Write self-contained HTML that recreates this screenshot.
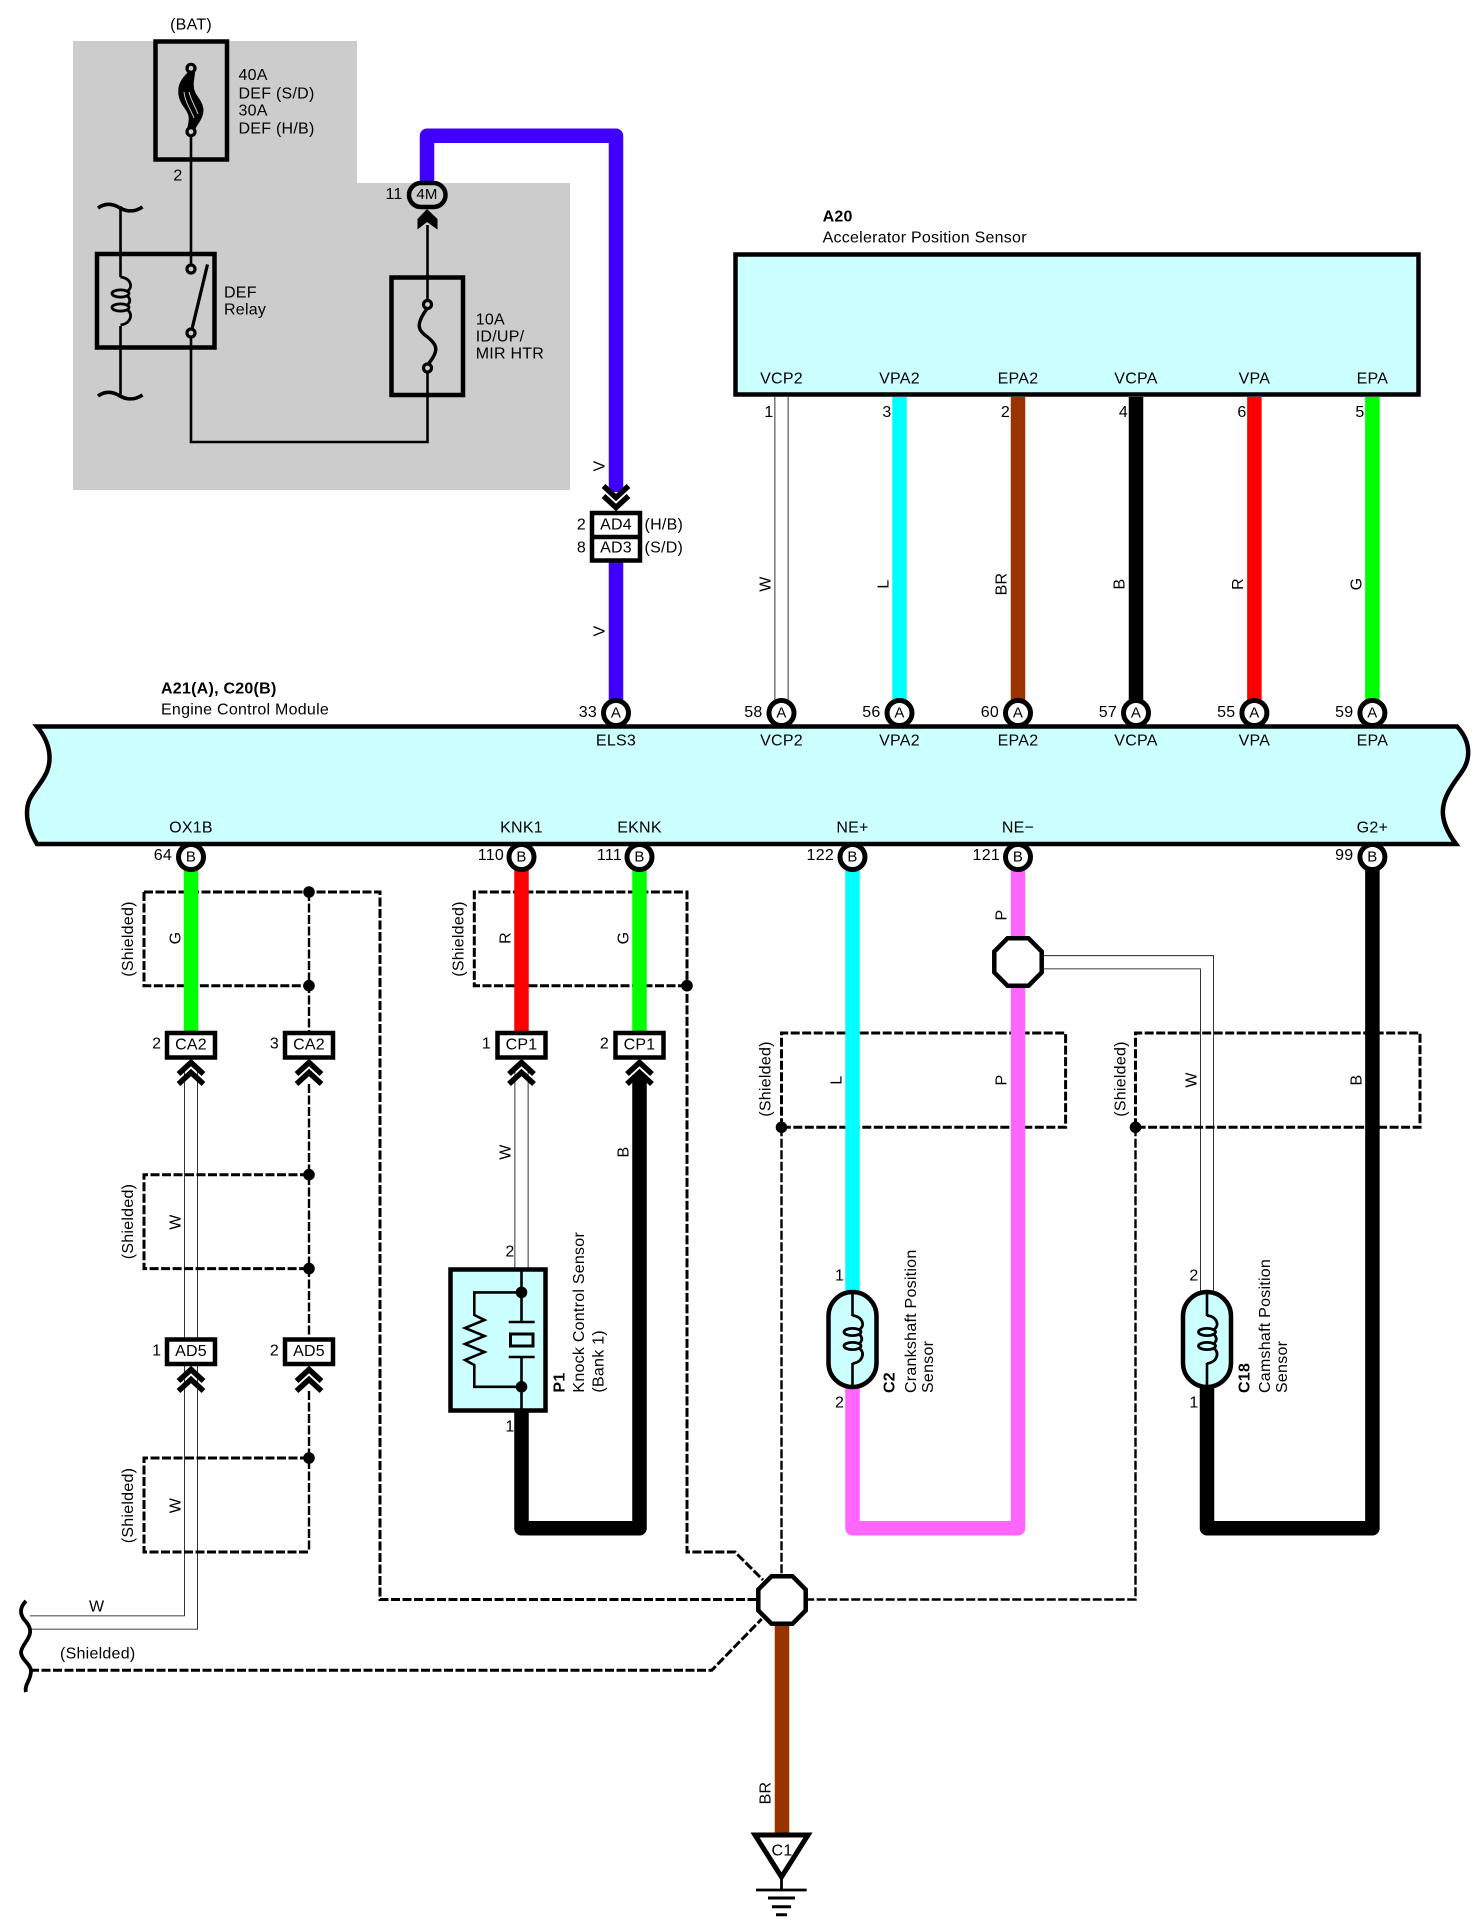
<!DOCTYPE html>
<html>
<head>
<meta charset="utf-8">
<title>Engine Control Module Wiring Diagram</title>
<style>
html,body{margin:0;padding:0;background:#fff}
svg{display:block}
text{font-family:"Liberation Sans",Arial,sans-serif;font-size:16px;letter-spacing:.25px;fill:#000;dominant-baseline:central}
.m{text-anchor:middle}
.e{text-anchor:end}
.b{font-weight:bold}
.s{font-size:15px}
.w{fill:none;stroke-linejoin:round;stroke-linecap:butt;stroke-width:14.5}
.k{fill:none;stroke:#000}
.d{fill:none;stroke:#000;stroke-width:3;stroke-dasharray:9 2.5}
.d2{fill:none;stroke:#000;stroke-width:2.4;stroke-dasharray:9 2.5}
.p{fill:#fff;stroke:#000;stroke-width:5}
.c{fill:#000}
</style>
</head>
<body>
<svg xmlns="http://www.w3.org/2000/svg" width="1479" height="1929" viewBox="0 0 1479 1929">
<defs>
<g id="chevU" class="k" style="stroke-width:5.5;fill:none"><path d="M-12.5,15 L0,3.5 L12.5,15"/><path d="M-12.5,25 L0,13.5 L12.5,25"/></g>
<g id="oct"><polygon points="-10.5,-23.7 10.5,-23.7 23.7,-10.5 23.7,10.5 10.5,23.7 -10.5,23.7 -23.7,10.5 -23.7,-10.5" fill="#fff" stroke="#000" stroke-width="4.5"/></g>
<g id="coil" fill="none" stroke="#000" stroke-width="2.8"><path d="M0,-24 C10,-23 13,-14 7,-10"/><ellipse cx="0" cy="-7.5" rx="8.5" ry="3.6"/><path d="M7,-5 C10,-2 10,1 7,4"/><ellipse cx="0" cy="6.5" rx="8.5" ry="3.6"/><path d="M7,9 C13,13 10,23 0,24"/></g>
</defs>
<rect width="1479" height="1929" fill="#fff"/>

<!-- gray area -->
<polygon points="73,41 357,41 357,183 570,183 570,490 73,490" fill="#cccccc"/>

<!-- BAT fuse -->
<rect x="155.5" y="41.5" width="71.5" height="118" fill="none" stroke="#000" stroke-width="4.5"/>
<path d="M190,70 C182,78 177,84 178.5,95 C180,105 187,109 188.5,116 C189.5,122 187,126 187.5,130 L195,130 C197,124 203,120 203.5,110 C203,100 195,96 194,88 C193,82 195,78 195,71 Z" fill="#000"/>
<path d="M184,92 C185,102 190,108 194,118 M189,92 C191,100 195,106 198,114" stroke="#ccc" stroke-width="1" fill="none"/>
<circle cx="191" cy="68.3" r="4" fill="#ccc" stroke="#000" stroke-width="3.2"/>
<circle cx="191" cy="131.7" r="4" fill="#ccc" stroke="#000" stroke-width="3.2"/>
<path class="k" stroke-width="2.6" d="M191,136 V265"/>

<!-- Relay -->
<rect x="97" y="254" width="117.5" height="93.5" fill="none" stroke="#000" stroke-width="4.5"/>
<path class="k" stroke-width="2.6" d="M120.5,206 V277 M120.5,326 V396"/>
<use href="#coil" x="120.5" y="301"/>
<path class="k" stroke-width="3.6" d="M98,208 C105,203 112,203 120,208 C127,212 135,212 142.5,207"/>
<path class="k" stroke-width="3.6" d="M98,396 C105,391 112,391 120,396 C127,400 135,400 142.5,395"/>
<circle cx="191" cy="269" r="4" fill="#ccc" stroke="#000" stroke-width="3.2"/>
<circle cx="191" cy="333" r="4" fill="#ccc" stroke="#000" stroke-width="3.2"/>
<path class="k" stroke-width="3.2" d="M192,329 L207.5,264.5"/>
<path class="k" stroke-width="2.6" d="M191,337 V442 H427.5 V372 M427.5,300 V225"/>

<!-- 10A fuse -->
<rect x="391.5" y="277.5" width="71.5" height="117.5" fill="none" stroke="#000" stroke-width="4.5"/>
<path class="k" stroke-width="3.4" d="M427.5,308 C415,325 418,330 427.5,337 C437,345 440,350 427.5,365"/>
<circle cx="427.5" cy="304.5" r="4" fill="#ccc" stroke="#000" stroke-width="3.2"/>
<circle cx="427.5" cy="368" r="4" fill="#ccc" stroke="#000" stroke-width="3.2"/>

<!-- Blue wire -->
<path class="w" stroke="#4000ff" d="M427,185 V135.7 H616 V492 M616,560 V702"/>

<!-- 4M -->
<rect x="409" y="183" width="36.5" height="24" rx="12" ry="12" fill="#ccc" stroke="#000" stroke-width="4.5"/>
<polygon points="427,209 437.5,219 437.5,229.5 427,222 417.5,229.5 417.5,219" fill="#000"/>

<!-- White wires (under shields) -->
<path d="M781.5,397 V702" class="k" stroke-width="14"/><path d="M781.5,397 V702" fill="none" stroke="#fff" stroke-width="12.4"/>
<path d="M191,1070 V1622.5 H30" class="k" stroke-width="14"/><path d="M191,1070 V1622.5 H30" fill="none" stroke="#fff" stroke-width="12.4"/>
<path d="M521.5,1070 V1268" class="k" stroke-width="14"/><path d="M521.5,1070 V1268" fill="none" stroke="#fff" stroke-width="12.4"/>
<path d="M1040,962.3 H1207 V1292" class="k" stroke-width="14"/><path d="M1040,962.3 H1207 V1292" fill="none" stroke="#fff" stroke-width="12.4"/>

<!-- Shields -->
<path class="d" d="M144,892 H380 V1599.5 H756"/>
<path class="d" d="M144,892 V985.7 H309"/>
<path class="d2" d="M309,892 V1032"/>
<path class="d2" d="M309,1084 V1337"/>
<path class="d2" d="M309,1391 V1552"/>
<path class="d" d="M309,1174.7 H144 V1268.6 H309"/>
<path class="d" d="M309,1458 H144 V1552 H309"/>
<path class="d" d="M687,985.7 H474.3 V892 H687 V1552 H735 L763,1580"/>
<path class="d" d="M781.5,1127.3 V1033 H1065.6 V1127.3 H781.5"/>
<path class="d2" d="M781.5,1127.3 V1576"/>
<path class="d" d="M1135.5,1127.3 V1033 H1420 V1127.3 H1135.5"/>
<path class="d2" d="M1135.5,1127.3 V1599.5 H808"/>
<path class="d" d="M30,1670.3 H711.7 L761.7,1619"/>
<circle class="c" cx="309" cy="892" r="5.8"/>
<circle class="c" cx="309" cy="985.7" r="5.8"/>
<circle class="c" cx="309" cy="1174.7" r="5.8"/>
<circle class="c" cx="309" cy="1268.6" r="5.8"/>
<circle class="c" cx="309" cy="1458" r="5.8"/>
<circle class="c" cx="687" cy="985.7" r="5.8"/>
<circle class="c" cx="781.5" cy="1127.3" r="5.8"/>
<circle class="c" cx="1135.5" cy="1127.3" r="5.8"/>

<!-- Colored wires -->
<path class="w" stroke="#00ffff" d="M899.5,397 V702"/>
<path class="w" stroke="#993300" d="M1018,397 V702"/>
<path class="w" stroke="#000" d="M1136,397 V702"/>
<path class="w" stroke="#ff0000" d="M1254.4,397 V702"/>
<path class="w" stroke="#00ff00" d="M1372.4,397 V702"/>
<path class="w" stroke="#00ff00" d="M191,870 V1034"/>
<path class="w" stroke="#ff0000" d="M521.5,870 V1034"/>
<path class="w" stroke="#00ff00" d="M639.5,870 V1034"/>
<path class="w" stroke="#000" d="M639.5,1075 V1528.3 H521.5 V1410"/>
<path class="w" stroke="#00ffff" d="M852.5,870 V1294"/>
<path class="w" stroke="#ff66ff" d="M852.5,1385 V1528.3 H1018 V870"/>
<path class="w" stroke="#000" d="M1207,1385 V1528.3 H1372.4 V870"/>
<path class="w" stroke="#993300" d="M782,1622 V1836" style="stroke-linejoin:miter"/>

<!-- A20 box -->
<rect x="735.5" y="254.5" width="683" height="140" fill="#ccffff" stroke="#000" stroke-width="4.5"/>

<!-- ECM -->
<path d="M37,726.5 H1457 C1466,736 1469,746 1468,756 C1467,768 1458,776 1452,786 C1446,795 1442,805 1443,815 C1444,826 1450,836 1456,844 H37 C32,836 27,826 27,813 C27,800 32,795 39,785 C46,775 50,768 49.5,756 C49,745 44,735 37,726.5 Z" fill="#ccffff" stroke="#000" stroke-width="4.5" stroke-linejoin="miter"/>

<!-- Pins A -->
<circle class="p" cx="616" cy="713" r="12.5"/>
<circle class="p" cx="781.5" cy="713" r="12.5"/>
<circle class="p" cx="899.5" cy="713" r="12.5"/>
<circle class="p" cx="1018" cy="713" r="12.5"/>
<circle class="p" cx="1136" cy="713" r="12.5"/>
<circle class="p" cx="1254.4" cy="713" r="12.5"/>
<circle class="p" cx="1372.4" cy="713" r="12.5"/>
<!-- Pins B -->
<circle class="p" cx="191" cy="857" r="12.5"/>
<circle class="p" cx="521.5" cy="857" r="12.5"/>
<circle class="p" cx="639.5" cy="857" r="12.5"/>
<circle class="p" cx="852.5" cy="857" r="12.5"/>
<circle class="p" cx="1018" cy="857" r="12.5"/>
<circle class="p" cx="1372.4" cy="857" r="12.5"/>

<!-- Splice octagons -->
<use href="#oct" x="1018" y="962"/>
<use href="#oct" x="782" y="1600"/>

<!-- Connectors -->
<rect x="592" y="513" width="48" height="47.5" fill="#fff" stroke="#000" stroke-width="4.5"/>
<path class="k" stroke-width="4.5" d="M592,537 H640"/>
<g transform="translate(616,511) scale(1,-1)"><use href="#chevU"/></g>

<rect x="167" y="1033" width="48" height="24.5" fill="#fff" stroke="#000" stroke-width="4.5"/>
<rect x="285" y="1033" width="48" height="24.5" fill="#fff" stroke="#000" stroke-width="4.5"/>
<rect x="497.5" y="1033" width="48" height="24.5" fill="#fff" stroke="#000" stroke-width="4.5"/>
<rect x="615.5" y="1033" width="48" height="24.5" fill="#fff" stroke="#000" stroke-width="4.5"/>
<use href="#chevU" x="191" y="1059"/>
<use href="#chevU" x="309" y="1059"/>
<use href="#chevU" x="521.5" y="1059"/>
<use href="#chevU" x="639.5" y="1059"/>

<rect x="167" y="1339.5" width="48" height="24.5" fill="#fff" stroke="#000" stroke-width="4.5"/>
<rect x="285" y="1339.5" width="48" height="24.5" fill="#fff" stroke="#000" stroke-width="4.5"/>
<use href="#chevU" x="191" y="1366"/>
<use href="#chevU" x="309" y="1366"/>

<!-- Knock sensor -->
<rect x="450.5" y="1269.5" width="95" height="141" fill="#ccffff" stroke="#000" stroke-width="4.5"/>
<path class="k" stroke-width="2.6" d="M521.5,1268 V1322 M521.5,1357 V1412 M521.5,1292.4 H474.3 V1315 L484.5,1320 L465,1328 L484.5,1336 L465,1344 L484.5,1352 L465,1360 L474.3,1365 V1386.8 H521.5"/>
<path class="k" stroke-width="2.6" d="M508.7,1322 H534.7 M508.7,1357 H534.7"/>
<rect x="510.5" y="1334" width="22.5" height="12" fill="none" stroke="#000" stroke-width="3"/>
<circle class="c" cx="521.5" cy="1292.4" r="5.8"/>
<circle class="c" cx="521.5" cy="1386.8" r="5.8"/>

<!-- C2 sensor -->
<rect x="828.5" y="1292" width="48" height="95" rx="24" ry="24" fill="#ccffff" stroke="#000" stroke-width="4.5"/>
<path class="k" stroke-width="2.6" d="M852.5,1292 V1316 M852.5,1363 V1387"/>
<use href="#coil" x="852.5" y="1339.5"/>
<!-- C18 sensor -->
<rect x="1183" y="1292" width="48" height="95" rx="24" ry="24" fill="#ccffff" stroke="#000" stroke-width="4.5"/>
<path class="k" stroke-width="2.6" d="M1207,1292 V1316 M1207,1363 V1387"/>
<use href="#coil" x="1207" y="1339.5"/>

<!-- Wavy break -->
<path class="k" stroke-width="3.8" d="M26,1601 C20,1607 20,1613 23,1618 C27,1623 31,1627 30,1633 C29,1640 22,1645 21,1652 C21,1660 31,1664 31,1671 C31,1680 24,1685 26,1692"/>

<!-- Ground -->
<polygon points="755,1835 808,1835 781.5,1877" fill="#fff" stroke="#000" stroke-width="5"/>
<path class="k" stroke-width="2.8" d="M781.5,1878 V1890 M756,1890 H806.7"/>
<path class="k" stroke-width="3" d="M768,1898 H795 M772,1906.7 H791 M776,1914.7 H787"/>

<!-- TEXT -->
<text class="m" x="191" y="25">(BAT)</text>
<text x="238.5" y="75.5">40A</text>
<text x="238.5" y="94">DEF (S/D)</text>
<text x="238.5" y="111">30A</text>
<text x="238.5" y="129">DEF (H/B)</text>
<text class="m" x="178" y="176">2</text>
<text x="224" y="293">DEF</text>
<text x="224" y="310">Relay</text>
<text x="475.7" y="320">10A</text>
<text x="475.7" y="337">ID/UP/</text>
<text x="475.7" y="354">MIR HTR</text>
<text class="m" x="394" y="194.5">11</text>
<text class="m s" x="427" y="194.5">4M</text>
<text class="m" x="581.5" y="525">2</text>
<text class="m" x="581.5" y="548">8</text>
<text class="m" x="616" y="525">AD4</text>
<text class="m" x="616" y="548">AD3</text>
<text x="644.5" y="525">(H/B)</text>
<text x="644.5" y="548">(S/D)</text>

<text class="b" x="822.6" y="217">A20</text>
<text x="822.6" y="238">Accelerator Position Sensor</text>
<text class="m" x="781.5" y="379">VCP2</text>
<text class="m" x="899.5" y="379">VPA2</text>
<text class="m" x="1018" y="379">EPA2</text>
<text class="m" x="1136" y="379">VCPA</text>
<text class="m" x="1254.4" y="379">VPA</text>
<text class="m" x="1372.4" y="379">EPA</text>
<text class="m" x="769" y="412.5">1</text>
<text class="m" x="887" y="412.5">3</text>
<text class="m" x="1005.5" y="412.5">2</text>
<text class="m" x="1123.5" y="412.5">4</text>
<text class="m" x="1242" y="412.5">6</text>
<text class="m" x="1360" y="412.5">5</text>

<g transform="translate(1.2,0)">
<text class="m" transform="rotate(-90 599 466)" x="599" y="466">V</text>
<text class="m" transform="rotate(-90 599 631)" x="599" y="631">V</text>
<text class="m" transform="rotate(-90 765 584)" x="765" y="584">W</text>
<text class="m" transform="rotate(-90 883 584)" x="883" y="584">L</text>
<text class="m" transform="rotate(-90 1001 584)" x="1001" y="584">BR</text>
<text class="m" transform="rotate(-90 1119 584)" x="1119" y="584">B</text>
<text class="m" transform="rotate(-90 1237.5 584)" x="1237.5" y="584">R</text>
<text class="m" transform="rotate(-90 1356 584)" x="1356" y="584">G</text>
<text class="m" transform="rotate(-90 127.5 939)" x="127.5" y="939">(Shielded)</text>
<text class="m" transform="rotate(-90 174.6 938)" x="174.6" y="938">G</text>
<text class="m" transform="rotate(-90 457.8 939)" x="457.8" y="939">(Shielded)</text>
<text class="m" transform="rotate(-90 505 938)" x="505" y="938">R</text>
<text class="m" transform="rotate(-90 623 938)" x="623" y="938">G</text>
<text class="m" transform="rotate(-90 127.5 1221.5)" x="127.5" y="1221.5">(Shielded)</text>
<text class="m" transform="rotate(-90 174.6 1222)" x="174.6" y="1222">W</text>
<text class="m" transform="rotate(-90 127.5 1505.5)" x="127.5" y="1505.5">(Shielded)</text>
<text class="m" transform="rotate(-90 174.6 1505.5)" x="174.6" y="1505.5">W</text>
<text class="m" transform="rotate(-90 505 1152)" x="505" y="1152">W</text>
<text class="m" transform="rotate(-90 623 1152)" x="623" y="1152">B</text>
<text class="m" transform="rotate(-90 1001 915)" x="1001" y="915">P</text>
<text class="m" transform="rotate(-90 1001 1080)" x="1001" y="1080">P</text>
<text class="m" transform="rotate(-90 836 1080)" x="836" y="1080">L</text>
<text class="m" transform="rotate(-90 765 1079)" x="765" y="1079">(Shielded)</text>
<text class="m" transform="rotate(-90 1120 1079)" x="1120" y="1079">(Shielded)</text>
<text class="m" transform="rotate(-90 1190.7 1080)" x="1190.7" y="1080">W</text>
<text class="m" transform="rotate(-90 1356 1080)" x="1356" y="1080">B</text>
<text class="m" transform="rotate(-90 765 1793)" x="765" y="1793">BR</text>
</g>

<text class="b" x="161" y="689">A21(A), C20(B)</text>
<text x="161" y="710">Engine Control Module</text>
<text class="e" x="597" y="712.5">33</text>
<text class="e" x="762.5" y="712.5">58</text>
<text class="e" x="880.5" y="712.5">56</text>
<text class="e" x="999" y="712.5">60</text>
<text class="e" x="1117" y="712.5">57</text>
<text class="e" x="1235.4" y="712.5">55</text>
<text class="e" x="1353.4" y="712.5">59</text>
<text class="m s" x="616" y="713">A</text>
<text class="m s" x="781.5" y="713">A</text>
<text class="m s" x="899.5" y="713">A</text>
<text class="m s" x="1018" y="713">A</text>
<text class="m s" x="1136" y="713">A</text>
<text class="m s" x="1254.4" y="713">A</text>
<text class="m s" x="1372.4" y="713">A</text>
<text class="m" x="616" y="741">ELS3</text>
<text class="m" x="781.5" y="741">VCP2</text>
<text class="m" x="899.5" y="741">VPA2</text>
<text class="m" x="1018" y="741">EPA2</text>
<text class="m" x="1136" y="741">VCPA</text>
<text class="m" x="1254.4" y="741">VPA</text>
<text class="m" x="1372.4" y="741">EPA</text>

<text class="m" x="191" y="828">OX1B</text>
<text class="m" x="521.5" y="828">KNK1</text>
<text class="m" x="639.5" y="828">EKNK</text>
<text class="m" x="852.5" y="828">NE+</text>
<text class="m" x="1018" y="828">NE−</text>
<text class="m" x="1372.4" y="828">G2+</text>
<text class="e" x="172" y="855.5">64</text>
<text class="e" x="504" y="855.5">110</text>
<text class="e" x="622" y="855.5">111</text>
<text class="e" x="834" y="855.5">122</text>
<text class="e" x="1000" y="855.5">121</text>
<text class="e" x="1353.4" y="855.5">99</text>
<text class="m s" x="191" y="857">B</text>
<text class="m s" x="521.5" y="857">B</text>
<text class="m s" x="639.5" y="857">B</text>
<text class="m s" x="852.5" y="857">B</text>
<text class="m s" x="1018" y="857">B</text>
<text class="m s" x="1372.4" y="857">B</text>

<text class="m" x="156.7" y="1044">2</text>
<text class="m" x="274.5" y="1044">3</text>
<text class="m" x="486.5" y="1044">1</text>
<text class="m" x="604.5" y="1044">2</text>
<text class="m" x="191" y="1045">CA2</text>
<text class="m" x="309" y="1045">CA2</text>
<text class="m" x="521.5" y="1045">CP1</text>
<text class="m" x="639.5" y="1045">CP1</text>
<text class="m" x="156.7" y="1351">1</text>
<text class="m" x="274.5" y="1351">2</text>
<text class="m" x="191" y="1351.5">AD5</text>
<text class="m" x="309" y="1351.5">AD5</text>

<text class="m" x="510" y="1252">2</text>
<text class="m" x="510" y="1427">1</text>
<text class="b" transform="rotate(-90 560 1392.6)" x="560" y="1392.6">P1</text>
<text transform="rotate(-90 579.5 1392.6)" x="579.5" y="1392.6">Knock Control Sensor</text>
<text transform="rotate(-90 599 1392.6)" x="599" y="1392.6">(Bank 1)</text>

<text class="m" x="839.6" y="1276">1</text>
<text class="m" x="839.6" y="1403">2</text>
<text class="b" transform="rotate(-90 890 1393)" x="890" y="1393">C2</text>
<text transform="rotate(-90 911.3 1393)" x="911.3" y="1393">Crankshaft Position</text>
<text transform="rotate(-90 928.3 1393)" x="928.3" y="1393">Sensor</text>
<text class="m" x="1194" y="1276">2</text>
<text class="m" x="1194" y="1403">1</text>
<text class="b" transform="rotate(-90 1245 1393)" x="1245" y="1393">C18</text>
<text transform="rotate(-90 1265.7 1393)" x="1265.7" y="1393">Camshaft Position</text>
<text transform="rotate(-90 1282.7 1393)" x="1282.7" y="1393">Sensor</text>

<text class="m" x="96.7" y="1607">W</text>
<text x="60" y="1654">(Shielded)</text>
<text class="m" x="782" y="1851">C1</text>
</svg>
</body>
</html>
